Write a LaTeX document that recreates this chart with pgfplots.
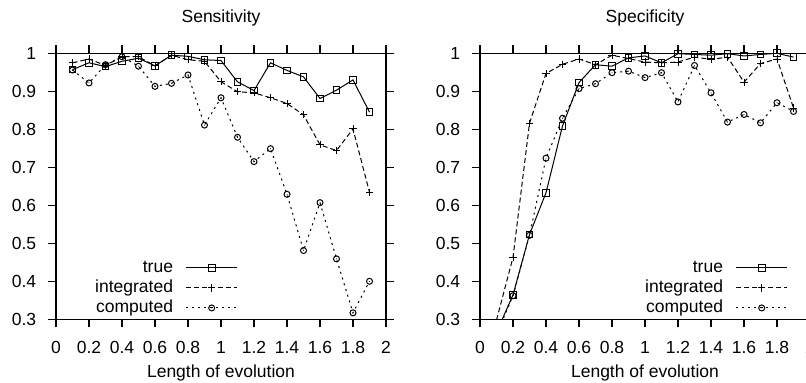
\documentclass[border=0pt]{standalone}
\usepackage{fontspec}
\setmainfont{Liberation Sans}
\usepackage{pgfplots}
\pgfplotsset{compat=1.18}
\usepackage{pgfplotstable}

\pgfdeclareplotmark{odot}{%
  \pgfpathcircle{\pgfpointorigin}{\pgfplotmarksize}\pgfusepathqstroke
  \pgfpathcircle{\pgfpointorigin}{0.25pt}\pgfusepathqfill}

\newcommand\fs{\fontsize{8.75}{10.5}\selectfont}

\pgfplotstableread{
x y
0.1 0.957
0.2 0.975
0.3 0.965
0.4 0.979
0.5 0.987
0.6 0.967
0.7 0.995
0.8 0.992
0.9 0.983
1.0 0.981
1.1 0.925
1.2 0.902
1.3 0.975
1.4 0.955
1.5 0.938
1.6 0.881
1.7 0.903
1.8 0.930
1.9 0.845
}\senstrue
\pgfplotstableread{
x y
0.1 0.975
0.2 0.985
0.3 0.968
0.4 0.991
0.5 0.991
0.6 0.967
0.7 0.995
0.8 0.983
0.9 0.979
1.0 0.925
1.1 0.899
1.2 0.896
1.3 0.883
1.4 0.868
1.5 0.838
1.6 0.759
1.7 0.744
1.8 0.801
1.9 0.634
}\sensint
\pgfplotstableread{
x y
0.1 0.956
0.2 0.922
0.3 0.970
0.4 0.991
0.5 0.966
0.6 0.913
0.7 0.921
0.8 0.943
0.9 0.811
1.0 0.883
1.1 0.779
1.2 0.715
1.3 0.749
1.4 0.629
1.5 0.481
1.6 0.607
1.7 0.459
1.8 0.317
1.9 0.400
}\senscomp
\pgfplotstableread{
x y
0.1 0.266
0.2 0.364
0.3 0.523
0.4 0.633
0.5 0.809
0.6 0.923
0.7 0.970
0.8 0.966
0.9 0.988
1.0 0.993
1.1 0.975
1.2 0.999
1.3 0.997
1.4 0.995
1.5 0.999
1.6 0.993
1.7 0.997
1.8 1.000
1.9 0.990
}\spectrue
\pgfplotstableread{
x y
0.1 0.298
0.2 0.463
0.3 0.816
0.4 0.947
0.5 0.971
0.6 0.985
0.7 0.970
0.8 0.995
0.9 0.986
1.0 0.977
1.1 0.975
1.2 0.977
1.3 0.990
1.4 0.984
1.5 0.990
1.6 0.924
1.7 0.973
1.8 0.985
1.9 0.856
}\specint
\pgfplotstableread{
x y
0.1 0.260
0.2 0.362
0.3 0.521
0.4 0.724
0.5 0.829
0.6 0.907
0.7 0.920
0.8 0.949
0.9 0.953
1.0 0.936
1.1 0.949
1.2 0.872
1.3 0.968
1.4 0.896
1.5 0.819
1.6 0.839
1.7 0.817
1.8 0.870
1.9 0.847
}\speccomp

\pgfplotsset{
  gp/.style={
    scale only axis, width=165pt, height=133pt,
    xmin=0, xmax=2, ymin=0.3, ymax=1,
    xtick={0,0.2,0.4,0.6,0.8,1,1.2,1.4,1.6,1.8,2},
    ytick={0.3,0.4,0.5,0.6,0.7,0.8,0.9,1},
    tick align=outside, major tick length=4pt,
    axis line style={line width=0.6pt},
    every tick/.style={line width=0.6pt, black},
    /pgf/number format/assume math mode=true,
    font=\fs, tick label style={font=\fs},
    xticklabel style={anchor=north, inner sep=0pt, yshift=-6.7pt},
    yticklabel style={anchor=east, inner sep=0pt, xshift=-5.75pt},
    xlabel style={at={(axis description cs:0.5,0)}, anchor=center, yshift=-26.85pt, inner sep=0pt},
    legend cell align=right, legend plot pos=right,
    legend style={draw=none, fill=none, inner sep=0pt, outer sep=0pt,
      column sep=6.35pt, row sep=0pt,
      nodes={inner sep=0pt, text height=0.72em, text depth=0.28em}, font=\fs},
    every axis plot post/.append style={
      legend image code/.code={\draw[mark repeat=2,mark phase=2,##1] plot coordinates {(0pt,0pt) (12.75pt,0pt) (25.5pt,0pt)};}},
  },
  strue/.style={black, solid, line width=0.5pt, mark=square, mark size=1.67pt, mark options={solid}},
  sint/.style={black, line width=0.5pt, dash pattern=on 2.5pt off 1.5pt, mark=+, mark size=1.8pt, mark options={solid}},
  scomp/.style={black, line width=0.5pt, dash pattern=on 1pt off 2pt, mark=odot, mark size=1.5pt, mark options={solid}},
  skipfirst/.style={mark indices={1,...,18}, legend image post style={mark indices={2}}},
}

\begin{document}
\begin{tikzpicture}
\path[use as bounding box] (0,0) rectangle (403pt,191.5pt);
\clip (0,0) rectangle (403pt,191.5pt);
\begin{axis}[gp, name=L, at={(28pt,31.85pt)}, anchor=south west,
  xlabel={Length of evolution},
  legend style={at={(0.5506,0.2306)}, anchor=north east}]
\addplot[strue] table[x=x,y=y] {\senstrue};
\addplot[sint] table[x=x,y=y] {\sensint};
\addplot[scomp] table[x=x,y=y] {\senscomp};
\legend{true, integrated, computed}
\end{axis}
\begin{axis}[gp, name=R, at={(240pt,31.85pt)}, anchor=south west,
  xlabel={Length of evolution},
  legend style={at={(0.9324,0.2306)}, anchor=north east}]
\addplot[strue, skipfirst] table[x=x,y=y] {\spectrue};
\addplot[sint, skipfirst] table[x=x,y=y] {\specint};
\addplot[scomp, skipfirst] table[x=x,y=y] {\speccomp};
\legend{true, integrated, computed}
\end{axis}
\node[font=\fs, inner sep=0pt] at ([yshift=17.6pt]L.north) {Sensitivity};
\node[font=\fs, inner sep=0pt] at ([yshift=17.6pt]R.north) {Specificity};
\end{tikzpicture}
\end{document}
